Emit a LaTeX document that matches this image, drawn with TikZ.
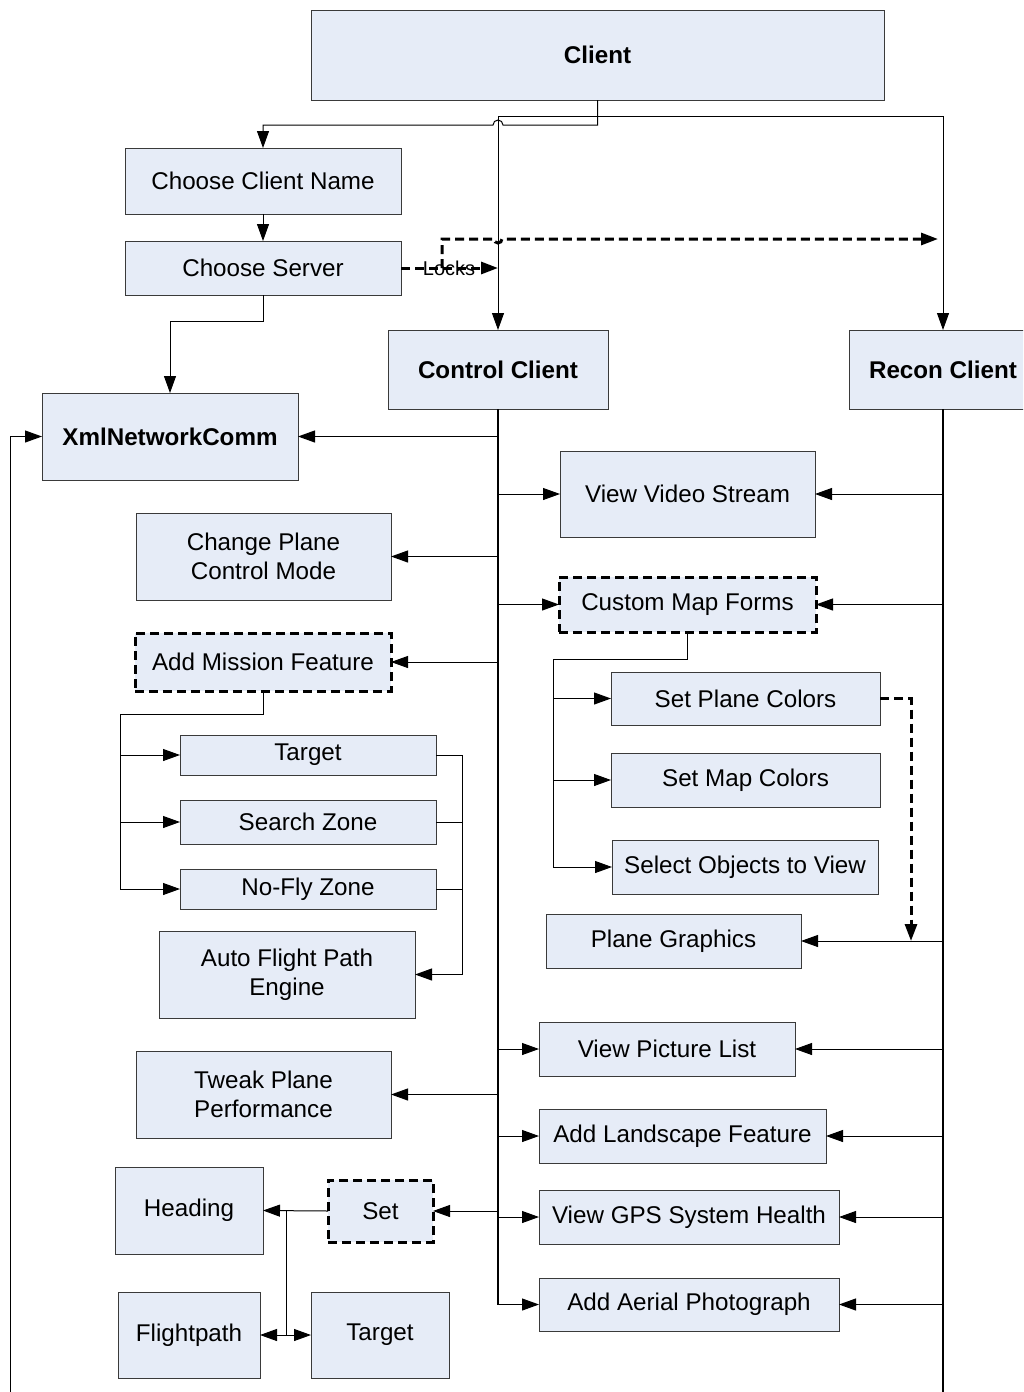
\documentclass[tikz,border=0pt]{standalone}
\usepackage{fontspec}
\setmainfont{Liberation Sans}
\usetikzlibrary{arrows.meta,calc}
\definecolor{boxfill}{HTML}{E6ECF7}
\definecolor{boxline}{HTML}{3A3A3A}
\tikzset{
  box/.style={draw=boxline,line width=1pt,fill=boxfill,rectangle,inner sep=2pt,outer sep=0pt,
    align=center,font=\fontsize{24.2}{29}\selectfont},
  boldbox/.style={box,font=\fontsize{24.2}{29}\selectfont\bfseries},
  dashbox/.style={box,draw=black,line width=3pt,dash pattern=on 9pt off 5pt},
  tip/.style={-{Triangle[length=17pt,width=12pt]}},
  wire/.style={draw=black,line width=1pt},
  arr/.style={wire,tip},
  bus/.style={draw=black,line width=2pt},
  dsh/.style={draw=black,line width=3pt,dash pattern=on 9pt off 5pt},
}
\begin{document}
\begin{tikzpicture}[x=1pt,y=-1pt]
\useasboundingbox (0,0) rectangle (1023,1392);
\begin{scope}
\clip (0,0) rectangle (1023,1392);

% top level
\node[boldbox,minimum width=573,minimum height=90] (client) at (597.5,55) {Client};
\node[box,minimum width=276,minimum height=66] (ccn) at (263,181) {Choose Client Name};
\node[box,minimum width=276,minimum height=54] (cs) at (263,268) {Choose Server};
\node[boldbox,minimum width=256,minimum height=87] (xml) at (170,436.5) {XmlNetworkComm};
\node[boldbox,minimum width=220,minimum height=79] (cc) at (498,369.5) {Control Client};
\node[boldbox,minimum width=188,minimum height=79] (rc) at (943,369.5) {Recon Client};

% control client features (left)
\node[box,minimum width=255,minimum height=87] (cpcm) at (263.5,556.5) {Change Plane\\Control Mode};
\node[dashbox,minimum width=256,minimum height=58] (amf) at (263,662) {Add Mission Feature};
\node[box,minimum width=256,minimum height=40] (tgt) at (308,755) {Target};
\node[box,minimum width=256,minimum height=44] (sz) at (308,822) {Search Zone};
\node[box,minimum width=256,minimum height=40] (nfz) at (308,889) {No-Fly Zone};
\node[box,minimum width=256,minimum height=87] (afpe) at (287,974.5) {Auto Flight Path\\Engine};
\node[box,minimum width=255,minimum height=87] (tpp) at (263.5,1094.5) {Tweak Plane\\Performance};
\node[box,minimum width=148,minimum height=87] (hd) at (189,1210.5) {Heading};
\node[dashbox,minimum width=105,minimum height=62] (set) at (380.5,1211) {Set};
\node[box,minimum width=142,minimum height=86] (fp) at (189,1335) {Flightpath};
\node[box,minimum width=138,minimum height=86] (tb) at (380,1335) {Target};

% shared features (right)
\node[box,minimum width=255,minimum height=86] (vvs) at (687.5,494) {View Video Stream};
\node[dashbox,minimum width=257,minimum height=55] (cmf) at (687.5,604.5) {Custom Map Forms};
\node[box,minimum width=269,minimum height=53] (spc) at (745.5,698.5) {Set Plane Colors};
\node[box,minimum width=269,minimum height=54] (smc) at (745.5,780) {Set Map Colors};
\node[box,minimum width=266,minimum height=54] (sov) at (745,867) {Select Objects to View};
\node[box,minimum width=255,minimum height=54] (pg) at (673.5,941) {Plane Graphics};
\node[box,minimum width=256,minimum height=54] (vpl) at (667,1049) {View Picture List};
\node[box,minimum width=287,minimum height=54] (alf) at (682.5,1136) {Add Landscape Feature};
\node[box,minimum width=300,minimum height=54] (gps) at (689,1217) {View GPS System Health};
\node[box,minimum width=300,minimum height=53] (aap) at (689,1304.5) {Add Aerial Photograph};

% junction points
\coordinate (j1) at (597.5,125);
\coordinate (j2) at (498,116);
\coordinate (lk) at (442,268);
\coordinate (lkt) at (442,239);
\coordinate (lke) at (938,239);
\coordinate (cm1) at (553,659);
\coordinate (mf1) at (120,714);
\coordinate (mf2) at (462,755);
\coordinate (pgd) at (911,941);
\coordinate (s1) at (286,1211);
\coordinate (lm) at (10,1400);
\coordinate (rb) at (943,1400);

% client fan-out
\draw[arr] (client.south) -- (j1) -- (503,125) arc[start angle=0,end angle=-180,radius=5] -- (ccn.north |- j1) -- (ccn.north);
\draw[wire,{Triangle[length=17pt,width=12pt]}-{Triangle[length=17pt,width=12pt]}] (cc.north) -- (j2) -- (j2 -| rc.north) -- (rc.north);
\draw[arr] (ccn.south) -- (cs.north);
\draw[arr] (cs.south) -- ++(0,26) -| (xml.north);

% locks
\draw[dsh,tip] (cs.east) -- (cs.east -| cc.north);
\node[font=\fontsize{20}{23}\selectfont,inner sep=0pt] (locks) at (449,268) {Locks};
\draw[dsh,tip] (lk) -- (lkt) -- (494,239) arc[start angle=180,end angle=0,radius=4] -- (lke);

% control client bus
\draw[bus] (cc.south) -- (cc.south |- aap.west);
\draw[arr] (cc.south |- aap.west) -- (aap.west);
\foreach \n in {xml,cpcm,amf,tpp,set}
  \draw[arr] (\n.east -| cc.south) -- (\n.east);
\foreach \n in {vvs,cmf,vpl,alf,gps}
  \draw[arr] (\n.west -| cc.south) -- (\n.west);

% recon client bus
\draw[bus] (rc.south) -- (rb);
\foreach \n in {vvs,cmf,pg,vpl,alf,gps,aap}
  \draw[arr] (\n.east -| rc.south) -- (\n.east);

% custom map forms
\draw[wire] (cmf.south) |- (cm1) -- (cm1 |- sov.west);
\foreach \n in {spc,smc,sov}
  \draw[arr] (\n.west -| cm1) -- (\n.west);
\draw[dsh,tip] (spc.east) -| (pgd);

% mission features
\draw[wire] (amf.south) |- (mf1) -- (mf1 |- nfz.west);
\foreach \n in {tgt,sz,nfz}
  \draw[arr] (\n.west -| mf1) -- (\n.west);
\draw[wire] (tgt.east) -- (mf2);
\draw[wire] (sz.east) -- (sz.east -| mf2);
\draw[wire] (nfz.east) -- (nfz.east -| mf2);
\draw[arr] (mf2) |- (afpe.east);

% set
\draw[arr] (set.west) -- (hd.east);
\draw[wire] (s1) -- (s1 |- fp.east);
\draw[arr] (s1 |- fp.east) -- (fp.east);
\draw[arr] (s1 |- tb.west) -- (tb.west);

% feedback into network comm
\draw[arr] (lm) |- (xml.west);
\end{scope}
\end{tikzpicture}
\end{document}
